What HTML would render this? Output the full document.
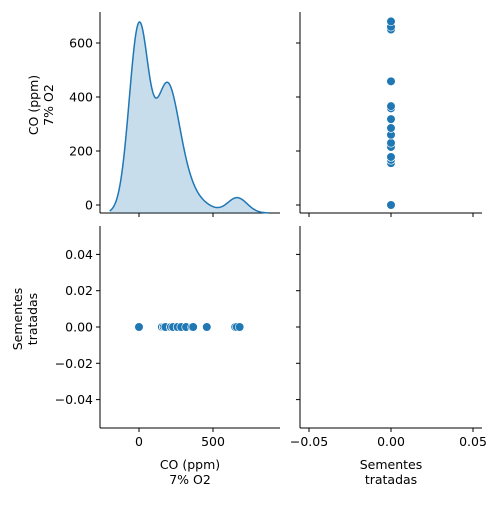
<!DOCTYPE html>
<html><head><meta charset="utf-8"><style>
body{margin:0;background:#fff;}
svg{font-family:"DejaVu Sans","Liberation Sans",sans-serif;}
</style></head><body>
<svg id="c" width="500" height="500" viewBox="0 0 500 500"></svg>
<script>
const coValues=[0,0,0,0,0,0,0,0,0,0,0,0,0,0,0,0,0,0,0,0,0,0,0,0,0,0,0,0,0,0,0,0,0,0,0,0,
155,155,155,155,155,167,167,167,167,167,167,178,178,178,178,178,215,215,215,215,230,230,230,230,260,260,260,285,285,318,358,366,458,650,660,680];
const treatedValues=coValues.map(()=>0);
const coTicks=[0,200,400,600];
const coXTicks=[0,500];
const treatedTicks=[-0.04,-0.02,0.00,0.02,0.04];
const treatedTickLabels=["−0.04","−0.02","0.00","0.02","0.04"];
const treatedXTicks=[-0.05,0,0.05];
const treatedXTickLabels=["−0.05","0.00","0.05"];
const kdeBandwidth=66;
const svg=document.getElementById('c');
const NS='http://www.w3.org/2000/svg';
function mk(t,a,p){const e=document.createElementNS(NS,t);for(const k in a)e.setAttribute(k,a[k]);(p||svg).appendChild(e);return e;}
const L={x0:100,x1:280},R={x0:300,x1:482},T={y0:213,y1:12},B={y0:428,y1:226};
const coX=v=>139+v*(74/500);
const coY=v=>205-v*(54/200);
const trX=v=>391+v*(82/0.05);
const trY=v=>327-v*(36.3/0.02);
function spines(x0,x1,yb,yt,name){
 const g=mk('g',{});
 mk('line',{x1:x0,y1:yt,x2:x0,y2:yb,stroke:'#000','stroke-width':1},g);
 mk('line',{x1:x0,y1:yb,x2:x1,y2:yb,stroke:'#000','stroke-width':1},g);
 return g;}
function xtick(g,x,y,label){mk('line',{x1:x,y1:y,x2:x,y2:y+4,stroke:'#000'},g);if(label!==null){const t=mk('text',{x:x,y:y+18,'text-anchor':'middle','font-size':12.5},g);t.textContent=label;}}
function ytick(g,x,y,label){mk('line',{x1:x-4,y1:y,x2:x,y2:y,stroke:'#000'},g);if(label!==null){const t=mk('text',{x:x-7,y:y+4.5,'text-anchor':'end','font-size':12.5},g);t.textContent=label;}}
const gTL=spines(L.x0,L.x1,T.y0,T.y1,'kde-axes');
const bw=kdeBandwidth;
const xs=[];for(let v=-3*bw+Math.min(...coValues);v<=Math.max(...coValues)+3*bw;v+=4)xs.push(v);
const dens=xs.map(x=>coValues.reduce((s,d)=>s+Math.exp(-0.5*((x-d)/bw)**2),0));
const dmax=Math.max(...dens);
const kY=d=>T.y0-d/dmax*191;
let pts=xs.map((x,i)=>coX(x).toFixed(2)+','+kY(dens[i]).toFixed(2));
const area=mk('path',{d:'M'+coX(xs[0])+','+kY(0)+' L'+pts.join(' L')+' L'+coX(xs[xs.length-1])+','+kY(0)+' Z',fill:'#1f77b4','fill-opacity':0.25,stroke:'none'},gTL);

const line=mk('path',{d:'M'+pts.join(' L'),fill:'none',stroke:'#1f77b4','stroke-width':1.5},gTL);

coTicks.forEach(v=>ytick(gTL,L.x0,coY(v),String(v)));
coXTicks.forEach(v=>xtick(gTL,coX(v),T.y0,null));
const gTR=spines(R.x0,R.x1,T.y0,T.y1,'scatter-co-vs-treated');
coTicks.forEach(v=>ytick(gTR,R.x0,coY(v),null));
treatedXTicks.forEach(v=>xtick(gTR,trX(v),T.y0,null));
coValues.forEach((v,i)=>{const c=mk('circle',{cx:trX(treatedValues[i]),cy:coY(v),r:4.3,fill:'#1f77b4',stroke:'#fff','stroke-width':0.6},gTR);});
const gBL=spines(L.x0,L.x1,B.y0,B.y1,'scatter-treated-vs-co');
treatedTicks.forEach((v,i)=>ytick(gBL,L.x0,trY(v),treatedTickLabels[i]));
coXTicks.forEach(v=>xtick(gBL,coX(v),B.y0,String(v)));
coValues.forEach((v,i)=>{const c=mk('circle',{cx:coX(v),cy:trY(treatedValues[i]),r:4.3,fill:'#1f77b4',stroke:'#fff','stroke-width':0.6},gBL);});
const gBR=spines(R.x0,R.x1,B.y0,B.y1,'empty-diag-axes');
treatedTicks.forEach(v=>ytick(gBR,R.x0,trY(v),null));
treatedXTicks.forEach((v,i)=>xtick(gBR,trX(v),B.y0,treatedXTickLabels[i]));
function label(lines,x,y,rot,name){const t=mk('text',{'text-anchor':'middle','font-size':12.5,transform:`translate(${x},${y}) rotate(${rot})`});
 lines.forEach((s,i)=>{const ts=mk('tspan',{x:0,dy:i?15:0},t);ts.textContent=s;});}
label(["CO (ppm)","7% O2"],38,113-8,-90,'y-axis-title-co');
label(["Sementes","tratadas"],22,327-8,-90,'y-axis-title-treated');
label(["CO (ppm)","7% O2"],190,469,0,'x-axis-title-co');
label(["Sementes","tratadas"],391,469,0,'x-axis-title-treated');
</script>
</body></html>
